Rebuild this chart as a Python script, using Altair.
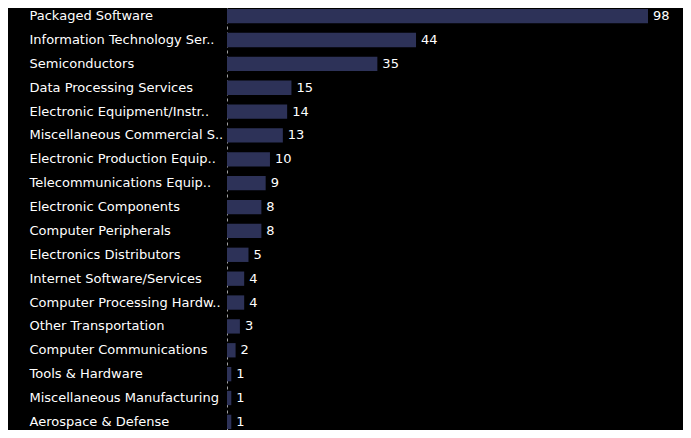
import altair as alt
import pandas as pd

categories = [
    "Packaged Software",
    "Information Technology Ser..",
    "Semiconductors",
    "Data Processing Services",
    "Electronic Equipment/Instr..",
    "Miscellaneous Commercial S..",
    "Electronic Production Equip..",
    "Telecommunications Equip..",
    "Electronic Components",
    "Computer Peripherals",
    "Electronics Distributors",
    "Internet Software/Services",
    "Computer Processing Hardw..",
    "Other Transportation",
    "Computer Communications",
    "Tools & Hardware",
    "Miscellaneous Manufacturing",
    "Aerospace & Defense",
]
values = [98, 44, 35, 15, 14, 13, 10, 9, 8, 8, 5, 4, 4, 3, 2, 1, 1, 1]

df = pd.DataFrame({"category": categories, "value": values})

FONT = "DejaVu Sans"

y_enc = alt.Y(
    "category:N",
    sort=categories,
    title=None,
    scale=alt.Scale(paddingInner=0.4, paddingOuter=0.04),
    axis=alt.Axis(
        labelAlign="left",
        labelPadding=198,
        ticks=False,
        tickSize=0,
        labelLimit=400,
        labelFont=FONT,
        labelFontSize=13,
        labelColor="#ffffff",
        domain=True,
        domainColor="#a0a0a0",
        domainDash=[3, 3],
        domainWidth=1,
        grid=False,
    ),
)
x_enc = alt.X("value:Q", axis=None, scale=alt.Scale(domain=[0, 98], nice=False, zero=True))

base = alt.Chart(df)

bars = base.mark_bar(color="#2d3258").encode(y=y_enc, x=x_enc)
labels = base.mark_text(
    align="left", baseline="middle", dx=5, font=FONT, fontSize=13, color="#ffffff"
).encode(y=y_enc, x=x_enc, text="value:Q")

chart = (
    alt.layer(bars, labels)
    .properties(
        width=421,
        height=422,
        background="#000000",
        padding={"left": 219, "top": 0, "right": 35, "bottom": 0},
        autosize=alt.AutoSizeParams(type="none"),
    )
    .configure_view(stroke=None)
)

chart.save("out.html", embed_options={"renderer": "svg", "actions": False})
